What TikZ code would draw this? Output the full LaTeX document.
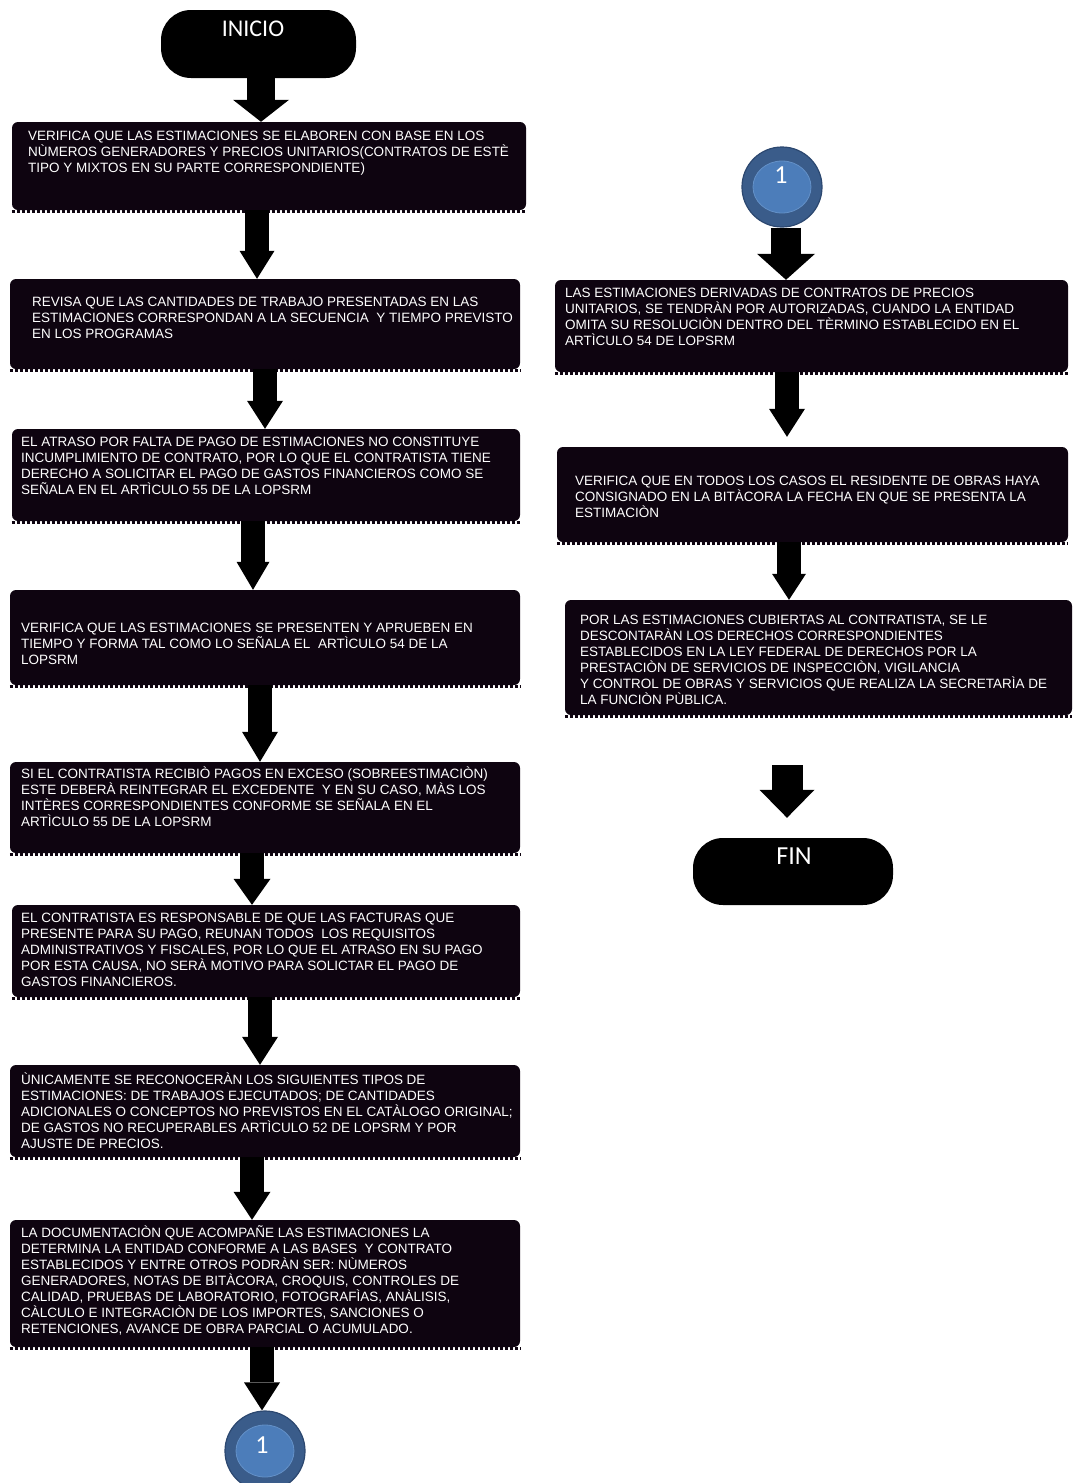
\documentclass[tikz,border=0pt]{standalone}
\usepackage{fontspec}
\setmainfont{Liberation Sans}
\newfontfamily\termfont{Carlito}
\usetikzlibrary{arrows.meta}

\definecolor{boxfill}{RGB}{14,4,16}
\definecolor{ringblue}{RGB}{58,92,138}
\definecolor{ringedge}{RGB}{44,72,112}
\definecolor{coreblue}{RGB}{76,125,186}
\definecolor{coreedge}{RGB}{100,145,200}

\newcommand\firststrut{\rule{0pt}{13pt}}

\tikzset{
  x=1pt, y=1pt,
  stepbox/.style={fill=boxfill, rounded corners=6pt, inner sep=0pt},
  hem/.style={draw=boxfill, line width=3pt, dash pattern=on 3.5pt off 1.5pt},
  boxtext/.style={text=white, anchor=north west, align=left, inner sep=0pt,
    font=\fontsize{13.5}{16}\selectfont},
  terminal/.style={fill=black, rounded corners=30pt, inner sep=0pt},
  termtext/.style={text=white, inner sep=0pt, font=\termfont\fontsize{24}{24}\selectfont},
  connector/.style={circle, fill=ringblue, draw=ringedge, line width=1.2pt,
    minimum size=80pt, inner sep=0pt},
  blockarrow/.style n args={3}{draw=black, line width=#1, line cap=butt,
    -{Triangle[width=#2, length=#3, line width=0pt]}},
}

\begin{document}
\begin{tikzpicture}
\useasboundingbox (0,0) rectangle (1073,-1483);

% start and end terminals
\node[terminal, minimum width=195pt, minimum height=68pt] (inicio) at (258.5,-44) {};
\node[termtext] (inicioT) at (253,-29) {INICIO};
\node[terminal, minimum width=200pt, minimum height=67pt] (fin) at (793,-871.5) {};
\node[termtext, font=\termfont\fontsize{26}{26}\selectfont] (finT) at (794,-856) {FIN};

% off-page connectors
\node[connector] (c1) at (782,-187) {};
\fill[coreblue, draw=coreedge, line width=0.8pt] (c1.center) ellipse (29pt and 26pt);
\node[termtext, font=\termfont\fontsize{26}{26}\selectfont] (c1T) at (781,-175) {1};
\node[connector] (c2) at (265,-1451) {};
\fill[coreblue, draw=coreedge, line width=0.8pt] (c2.center) ellipse (29pt and 26pt);
\node[termtext, font=\termfont\fontsize{26}{26}\selectfont] (c2T) at (262,-1445) {1};

% left column boxes
\node[stepbox, minimum width=514pt, minimum height=88pt] (b1) at (269,-166) {};
\node[stepbox, minimum width=510pt, minimum height=90pt] (b2) at (265,-324) {};
\node[stepbox, minimum width=508pt, minimum height=92pt] (b3) at (266,-475) {};
\node[stepbox, minimum width=510pt, minimum height=95pt] (b4) at (265,-637.5) {};
\node[stepbox, minimum width=510pt, minimum height=91pt] (b5) at (265,-807.5) {};
\node[stepbox, minimum width=508pt, minimum height=92pt] (b6) at (266,-951) {};
\node[stepbox, minimum width=510pt, minimum height=92pt] (b7) at (265,-1111) {};
\node[stepbox, minimum width=510pt, minimum height=127pt] (b8) at (265,-1283.5) {};
% right column boxes
\node[stepbox, minimum width=513pt, minimum height=92pt] (r1) at (811.5,-326) {};
\node[stepbox, minimum width=511pt, minimum height=95pt] (r2) at (812.5,-494.5) {};
\node[stepbox, minimum width=507pt, minimum height=115pt] (r3) at (818.5,-657.5) {};

% ragged lower edges of the boxes
\foreach \b in {b1,b2,b3,b4,b5,b6,b7,b8,r1,r2,r3}
  \draw[hem] ([yshift=-1.5pt]\b.south west) -- ([yshift=-1.5pt]\b.south east);

% box texts
\node[boxtext] (b1T) at (28,-127.7) {\firststrut VERIFICA QUE LAS ESTIMACIONES SE ELABOREN CON BASE EN LOS\\
NÙMEROS GENERADORES Y PRECIOS UNITARIOS(CONTRATOS DE ESTÈ\\
TIPO Y MIXTOS EN SU PARTE CORRESPONDIENTE)};
\node[boxtext] (b2T) at (32,-293.7) {\firststrut REVISA QUE LAS CANTIDADES DE TRABAJO PRESENTADAS EN LAS\\
ESTIMACIONES CORRESPONDAN A LA SECUENCIA\ \ Y TIEMPO PREVISTO\\
EN LOS PROGRAMAS};
\node[boxtext] (b3T) at (21,-433.7) {\firststrut EL ATRASO POR FALTA DE PAGO DE ESTIMACIONES NO CONSTITUYE\\
INCUMPLIMIENTO DE CONTRATO, POR LO QUE EL CONTRATISTA TIENE\\
DERECHO A SOLICITAR EL PAGO DE GASTOS FINANCIEROS COMO SE\\
SEÑALA EN EL ARTÌCULO 55 DE LA LOPSRM};
\node[boxtext] (b4T) at (21,-619.7) {\firststrut VERIFICA QUE LAS ESTIMACIONES SE PRESENTEN Y APRUEBEN EN\\
TIEMPO Y FORMA TAL COMO LO SEÑALA EL\ \ ARTÌCULO 54 DE LA\\
LOPSRM};
\node[boxtext] (b5T) at (21,-765.7) {\firststrut SI EL CONTRATISTA RECIBIÒ PAGOS EN EXCESO (SOBREESTIMACIÒN)\\
ESTE DEBERÀ REINTEGRAR EL EXCEDENTE\ \ Y EN SU CASO, MÀS LOS\\
INTÈRES CORRESPONDIENTES CONFORME SE SEÑALA EN EL\\
ARTÌCULO 55 DE LA LOPSRM};
\node[boxtext] (b6T) at (21,-909.7) {\firststrut EL CONTRATISTA ES RESPONSABLE DE QUE LAS FACTURAS QUE\\
PRESENTE PARA SU PAGO, REUNAN TODOS\ \ LOS REQUISITOS\\
ADMINISTRATIVOS Y FISCALES, POR LO QUE EL ATRASO EN SU PAGO\\
POR ESTA CAUSA, NO SERÀ MOTIVO PARA SOLICTAR EL PAGO DE\\
GASTOS FINANCIEROS.};
\node[boxtext] (b7T) at (21,-1071.7) {\firststrut ÙNICAMENTE SE RECONOCERÀN LOS SIGUIENTES TIPOS DE\\
ESTIMACIONES: DE TRABAJOS EJECUTADOS; DE CANTIDADES\\
ADICIONALES O CONCEPTOS NO PREVISTOS EN EL CATÀLOGO ORIGINAL;\\
DE GASTOS NO RECUPERABLES ARTÌCULO 52 DE LOPSRM Y POR\\
AJUSTE DE PRECIOS.};
\node[boxtext] (b8T) at (21,-1224.7) {\firststrut LA DOCUMENTACIÒN QUE ACOMPAÑE LAS ESTIMACIONES LA\\
DETERMINA LA ENTIDAD CONFORME A LAS BASES\ \ Y CONTRATO\\
ESTABLECIDOS Y ENTRE OTROS PODRÀN SER: NÙMEROS\\
GENERADORES, NOTAS DE BITÀCORA, CROQUIS, CONTROLES DE\\
CALIDAD, PRUEBAS DE LABORATORIO, FOTOGRAFÌAS, ANÀLISIS,\\
CÀLCULO E INTEGRACIÒN DE LOS IMPORTES, SANCIONES O\\
RETENCIONES, AVANCE DE OBRA PARCIAL O ACUMULADO.};
\node[boxtext] (r1T) at (565,-284.7) {\firststrut LAS ESTIMACIONES DERIVADAS DE CONTRATOS DE PRECIOS\\
UNITARIOS, SE TENDRÀN POR AUTORIZADAS, CUANDO LA ENTIDAD\\
OMITA SU RESOLUCIÒN DENTRO DEL TÈRMINO ESTABLECIDO EN EL\\
ARTÌCULO 54 DE LOPSRM};
\node[boxtext] (r2T) at (575,-472.7) {\firststrut VERIFICA QUE EN TODOS LOS CASOS EL RESIDENTE DE OBRAS HAYA\\
CONSIGNADO EN LA BITÀCORA LA FECHA EN QUE SE PRESENTA LA\\
ESTIMACIÒN};
\node[boxtext] (r3T) at (580,-611.7) {\firststrut POR LAS ESTIMACIONES CUBIERTAS AL CONTRATISTA, SE LE\\
DESCONTARÀN LOS DERECHOS CORRESPONDIENTES\\
ESTABLECIDOS EN LA LEY FEDERAL DE DERECHOS POR LA\\
PRESTACIÒN DE SERVICIOS DE INSPECCIÒN, VIGILANCIA\\
Y CONTROL DE OBRAS Y SERVICIOS QUE REALIZA LA SECRETARÌA DE\\
LA FUNCIÒN PÙBLICA.};

% block arrows, left column
\draw[blockarrow={28pt}{56pt}{22pt}] ([xshift=2.5pt]inicio.south) -- ([xshift=-8pt]b1.north);
\draw[blockarrow={24pt}{35pt}{28pt}] ([xshift=-12pt]b1.south) -- ([xshift=-8pt]b2.north);
\draw[blockarrow={24pt}{36pt}{28pt}] (b2.south) -- ([xshift=-1pt]b3.north);
\draw[blockarrow={24pt}{33pt}{28pt}] ([xshift=-13pt]b3.south) -- ([xshift=-12pt]b4.north);
\draw[blockarrow={24pt}{36pt}{30pt}] ([xshift=-5pt]b4.south) -- ([xshift=-5pt]b5.north);
\draw[blockarrow={24pt}{37pt}{26pt}] ([xshift=-13pt]b5.south) -- ([xshift=-14pt]b6.north);
\draw[blockarrow={24pt}{36pt}{28pt}] ([xshift=-6pt]b6.south) -- ([xshift=-5pt]b7.north);
\draw[blockarrow={24pt}{37pt}{28pt}] ([xshift=-13pt]b7.south) -- ([xshift=-13pt]b8.north);
\draw[blockarrow={24pt}{36pt}{28pt}] ([xshift=-3pt]b8.south) -- ([xshift=-3pt]c2.north);

% block arrows, right column
\draw[blockarrow={30pt}{58pt}{26pt}] ([xshift=4pt]c1.south) -- ([xshift=-25.5pt]r1.north);
\draw[blockarrow={24pt}{36pt}{28pt}, shorten >=10pt] ([xshift=-24.5pt]r1.south) -- ([xshift=-25.5pt]r2.north);
\draw[blockarrow={24pt}{34pt}{26pt}] ([xshift=-23.5pt]r2.south) -- ([xshift=-29.5pt]r3.north);
\coordinate (finarrow) at (787,-765);
\draw[blockarrow={31pt}{55pt}{28pt}, shorten >=20pt] (finarrow) -- ([xshift=-6pt]fin.north);
\end{tikzpicture}
\end{document}
